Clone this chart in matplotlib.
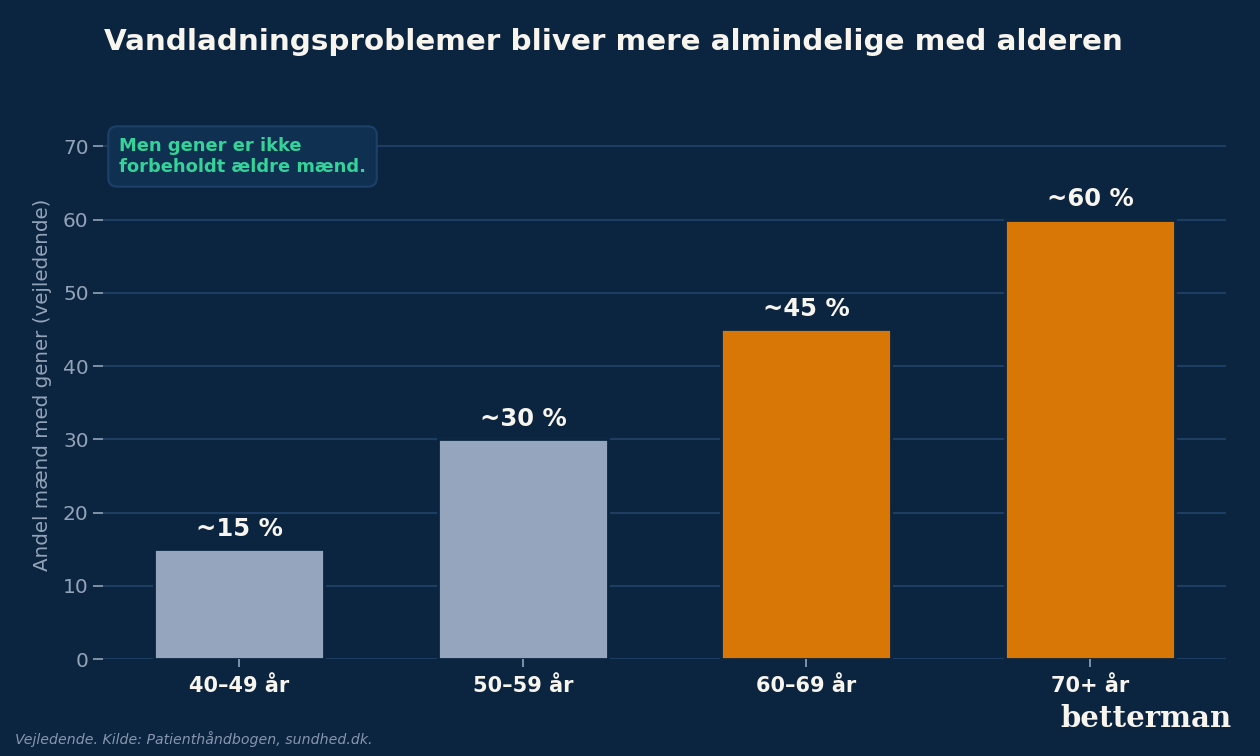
import matplotlib
matplotlib.use("Agg")
import matplotlib.pyplot as plt

plt.rcParams["font.family"] = ["DejaVu Sans"]

# Data
categories = ["40–49 år", "50–59 år", "60–69 år", "70+ år"]
values = [15, 30, 45, 60]
labels = ["~15 %", "~30 %", "~45 %", "~60 %"]

bg = "#0b2540"
grid_col = "#1e3d63"
grey_bar = "#94a5bd"
orange = "#d97706"
text_col = "#f8f4ee"
muted = "#94a3b8"
bar_colors = [grey_bar, grey_bar, orange, orange]

fig = plt.figure(figsize=(12.6, 7.56), dpi=100, facecolor=bg)
ax = fig.add_axes([0.082, 0.128, 0.891, 0.727])
ax.set_facecolor(bg)

x = range(len(categories))
bars = ax.bar(x, values, width=0.6, color=bar_colors, edgecolor=bg, linewidth=2, zorder=3)

# value labels above the bars
for b, lab in zip(bars, labels):
    ax.text(b.get_x() + b.get_width() / 2, b.get_height() + 1.2, lab,
            ha="center", va="bottom", fontsize=17.5, fontweight="bold", color=text_col, zorder=4)

ax.set_ylim(0, 75)
ax.set_yticks(range(0, 71, 10))
ax.set_xticks(list(x))
ax.set_xticklabels(categories, fontsize=15, fontweight="bold", color=text_col)
ax.tick_params(axis="y", colors=muted, labelsize=14.5, length=7, width=1.2)
ax.tick_params(axis="x", colors=muted, length=6, width=1.2, pad=6)
for lbl in ax.get_xticklabels():
    lbl.set_color(text_col)

ax.grid(axis="y", color=grid_col, linewidth=1.5, zorder=0)
ax.set_axisbelow(True)
for s in ax.spines.values():
    s.set_visible(False)

ax.set_ylabel("Andel mænd med gener (vejledende)", fontsize=14.3, color=muted, labelpad=8)

fig.text(0.487, 0.945, "Vandladningsproblemer bliver mere almindelige med alderen",
         ha="center", va="center", fontsize=21.2, fontweight="bold", color=text_col)

ax.text(0.014, 0.95, "Men gener er ikke\nforbeholdt ældre mænd.", transform=ax.transAxes,
        ha="left", va="top", fontsize=12.9, fontweight="bold", color="#34d399", linespacing=1.2,
        bbox=dict(boxstyle="round,pad=0.6,rounding_size=0.5", facecolor="#0f3050",
                  edgecolor="#1e4068", linewidth=1.5))

fig.text(0.012, 0.023, "Vejledende. Kilde: Patienthåndbogen, sundhed.dk.",
         ha="left", va="center", fontsize=10.2, style="italic", color="#8796ad")
fig.text(0.977, 0.05, "betterman", ha="right", va="center", fontsize=21,
         fontweight="heavy", family="DejaVu Serif", color=text_col)

fig.savefig("out.png", dpi=100, facecolor=bg)
